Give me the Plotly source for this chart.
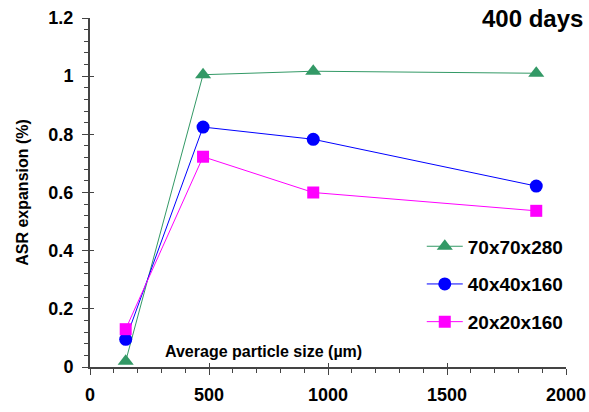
import plotly.graph_objects as go

particle_size = [150, 475, 938, 1875]
s70 = [0.02, 1.005, 1.017, 1.01]
s40 = [0.095, 0.825, 0.783, 0.622]
s20 = [0.13, 0.723, 0.600, 0.537]
series_names = ["70x70x280", "40x40x160", "20x20x160"]
colors = ["#339966", "#0000FF", "#FF00FF"]
symbols = ["triangle-up", "circle", "square"]
sizes = [14, 13, 12]

x_ticks = [0, 500, 1000, 1500, 2000]
y_ticks = [0, 0.2, 0.4, 0.6, 0.8, 1, 1.2]
y_ticktext = ["0", "0.2", "0.4", "0.6", "0.8", "1", "1.2"]

fig = go.Figure()
for name, ys, c, sym, sz in zip(series_names, [s70, s40, s20], colors, symbols, sizes):
    fig.add_trace(go.Scatter(
        x=particle_size, y=ys, mode="lines+markers", name=name,
        legendgroup=name,
        line=dict(color=c, width=1),
        marker=dict(symbol=sym, size=sz, color=c),
    ))

# invisible trace to carry the overlay axes (inner part of crossing ticks)
fig.add_trace(go.Scatter(x=[None], y=[None], xaxis="x2", yaxis="y2",
                         showlegend=False, hoverinfo="skip"))

font_family = "Liberation Sans, Arial, sans-serif"
axcol = "#444"
fig.update_layout(
    width=589, height=412,
    margin=dict(l=90, r=23, t=18, b=45, autoexpand=False),
    paper_bgcolor="white", plot_bgcolor="white",
    font=dict(family=font_family, size=16, color="black"),
    showlegend=True,
    legend=dict(x=0.697, y=0.40, xanchor="left", yanchor="top",
                font=dict(size=19, family=font_family, weight="bold"),
                tracegroupgap=10, bgcolor="rgba(0,0,0,0)", itemwidth=36),
    xaxis=dict(range=[0, 2000], tickvals=x_ticks, automargin=False,
               ticktext=["<b>%d</b>" % v for v in x_ticks],
               showgrid=False, zeroline=False, showline=True, linecolor=axcol, linewidth=2,
               ticks="outside", ticklen=6, tickwidth=1, tickcolor=axcol,
               tickfont=dict(size=18), ticklabelstandoff=4,
               minor=dict(dtick=100, ticks="outside", ticklen=4, tickcolor=axcol),
               ),
    yaxis=dict(range=[0, 1.2], tickvals=y_ticks, automargin=False,
               ticktext=["<b>%s</b>" % t for t in y_ticktext],
               showgrid=False, zeroline=False, showline=True, linecolor=axcol, linewidth=2,
               ticks="outside", ticklen=6, tickwidth=1, tickcolor=axcol,
               tickfont=dict(size=18), ticklabelstandoff=5,
               minor=dict(dtick=0.04, ticks="outside", ticklen=4, tickcolor=axcol),
               title=dict(text="<b>ASR expansion (%)</b>", font=dict(size=16), standoff=16),
               ),
    xaxis2=dict(range=[0, 2000], overlaying="x", tickvals=x_ticks, showticklabels=False,
                showgrid=False, zeroline=False, showline=False, automargin=False,
                ticks="inside", ticklen=4, tickwidth=1, tickcolor=axcol),
    yaxis2=dict(range=[0, 1.2], overlaying="y", tickvals=y_ticks, showticklabels=False,
                showgrid=False, zeroline=False, showline=False, automargin=False,
                ticks="inside", ticklen=4, tickwidth=1, tickcolor=axcol),
    annotations=[
        dict(text="<b>Average particle size (µm)</b>", x=0.365, y=0.043, xref="paper", yref="paper",
             xanchor="center", yanchor="middle", showarrow=False,
             font=dict(size=16)),
        dict(text="<b>400 days</b>", x=1.04, y=1.0, xref="paper", yref="paper",
             xanchor="right", yanchor="middle", showarrow=False,
             font=dict(size=24)),
    ],
)
fig.write_html("out.html", config={"displayModeBar": False},
               post_script="document.body.style.margin='0';")
